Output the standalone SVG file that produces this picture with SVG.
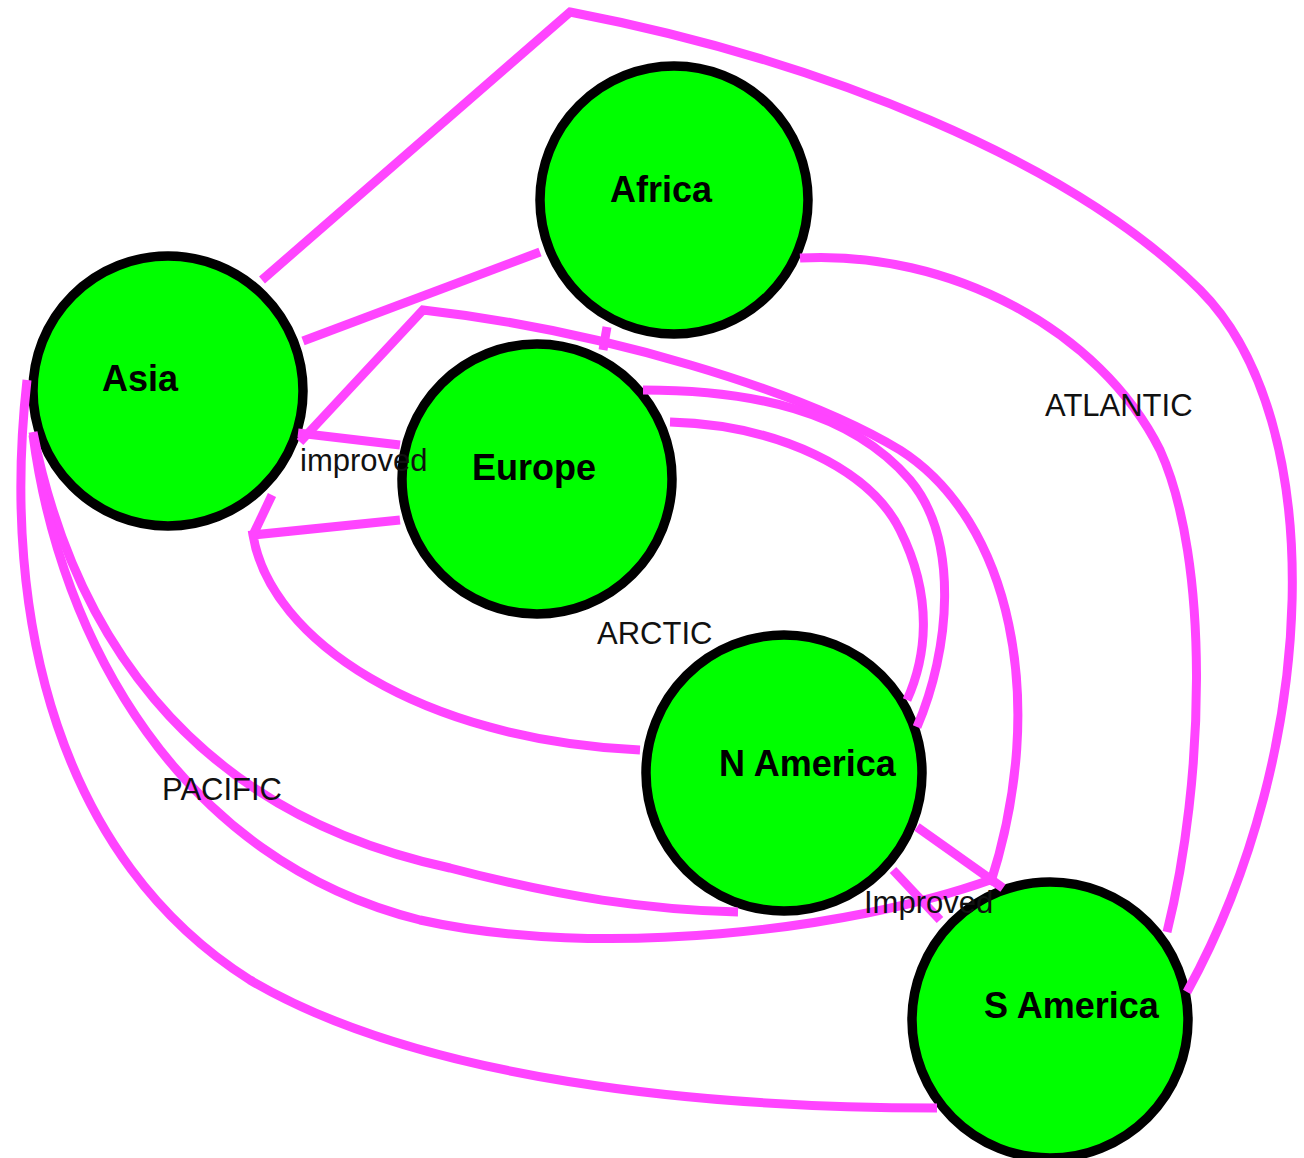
<svg xmlns="http://www.w3.org/2000/svg" width="1304" height="1158" viewBox="0 0 1304 1158">
<style>
.node circle{fill:#00ff00;stroke:#000;stroke-width:9.5}
.node text{font-family:"Liberation Sans",Arial,sans-serif;font-weight:bold;font-size:36px;fill:#000}
.edge{fill:none;stroke:#ff44ff;stroke-width:9;stroke-linejoin:miter}
.elabel{font-family:"Liberation Sans",Arial,sans-serif;font-size:31px;fill:#111}
</style>
<rect width="1304" height="1158" fill="#fff"/>
<g id="nodes">
<g id="node-africa" class="node"><circle cx="674" cy="200" r="134"/><text x="610" y="202">Africa</text></g>
<g id="node-asia" class="node"><circle cx="168" cy="391" r="135"/><text x="102" y="391">Asia</text></g>
<g id="node-europe" class="node"><circle cx="537" cy="479" r="135"/><text x="472" y="480">Europe</text></g>
<g id="node-namerica" class="node"><circle cx="784" cy="773" r="138"/><text x="719" y="776">N America</text></g>
<g id="node-samerica" class="node"><circle cx="1050" cy="1020" r="138"/><text x="984" y="1018">S America</text></g>
</g>
<g id="connectors">
<path class="edge" d="M262,280 L570,12 C820,60 1070,160 1200,290 C1330,420 1320,750 1187,992"/>
<path class="edge" d="M303,341 L540,252"/>
<path class="edge" d="M800,258 C950,250 1100,330 1160,450 C1210,560 1205,780 1167,932"/>
<path class="edge" d="M300,442 L423,310 C600,330 800,390 900,450 C1010,520 1050,700 990,885"/>
<path class="edge" d="M298,433 L400,445"/>
<path class="edge" d="M607,327 L603,350"/>
<path class="edge" d="M643,390 C750,390 850,410 910,480 C960,540 950,650 917,727"/>
<path class="edge" d="M670,422 C780,425 870,470 900,530 C935,600 925,660 907,700"/>
<path class="edge" d="M400,520 L253,535 C270,640 420,740 640,750"/>
<path class="edge" d="M272,495 L253,535"/>
<path class="edge" d="M27,380 C0,620 60,860 250,980 C420,1080 700,1108 937,1108"/>
<path class="edge" d="M33,432 C70,620 180,810 450,868 C560,897 650,910 738,912"/>
<path class="edge" d="M33,435 C60,640 180,860 420,920 C600,960 850,930 990,880"/>
<path class="edge" d="M917,827 L1003,888"/>
<path class="edge" d="M893,870 L940,920"/>
</g>
<g id="edge-labels">
<text class="elabel" x="300" y="471">improved</text>
<text class="elabel" x="1045" y="416">ATLANTIC</text>
<text class="elabel" x="597" y="644">ARCTIC</text>
<text class="elabel" x="162" y="800">PACIFIC</text>
<text class="elabel" x="864" y="913">Improved</text>
</g>
</svg>
